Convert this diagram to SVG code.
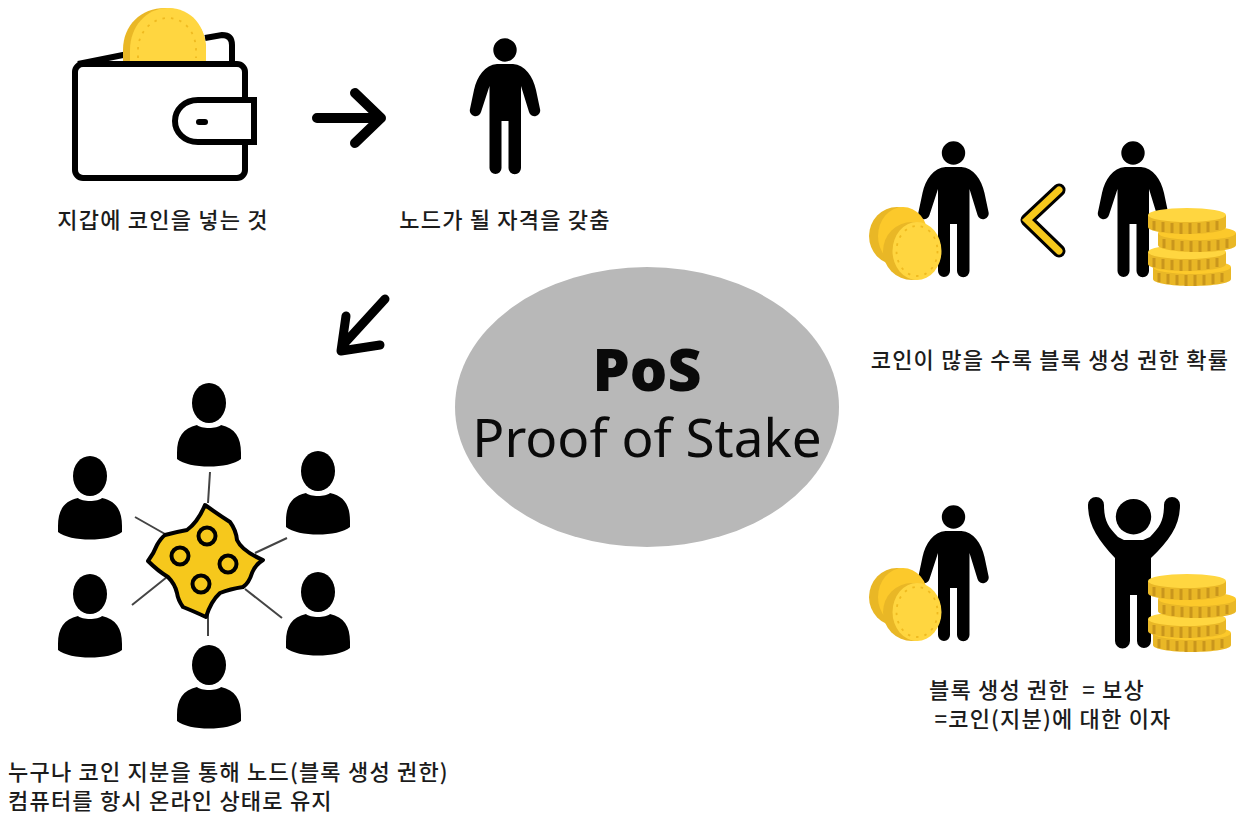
<svg xmlns="http://www.w3.org/2000/svg" xmlns:xlink="http://www.w3.org/1999/xlink" width="1238" height="814" viewBox="0 0 1238 814">
<style>
.t{font-family:"Noto Sans CJK KR","Noto Sans",sans-serif;font-size:22px;font-weight:500;fill:#1c1c1c;letter-spacing:1.2px;white-space:pre}
.big{font-family:"Noto Sans","Noto Sans CJK KR",sans-serif;fill:#0a0a0a}
.ln{stroke:#444;stroke-width:2;fill:none}
.arrow{fill:none;stroke:#000;stroke-linecap:round;stroke-linejoin:round}
.dots{fill:none;stroke:#efba20;stroke-width:1.8;stroke-dasharray:2.500 6}
</style>
<defs>
<path id="person" d="M-8 14H8C20 15 28 26 31 40L35 59A5.500 5.500 0 0 1 24 62L16 36V118A6 6 0 0 1 3.500 118V71H-3.500V118A6 6 0 0 1 -15.500 118V36L-24 62A5.500 5.500 0 0 1 -35 59L-31 40C-28 26 -20 15 -8 14ZM11.700 0A11.700 11.700 0 1 1 -11.700 0A11.700 11.700 0 1 1 11.700 0Z"/>
<g id="bust">
<ellipse cx="0" cy="-20" rx="17" ry="20"/>
<path d="M-12 2C-8 6 8 6 12 2C26 5 32 14 32 30V36C20 46 -20 46 -32 36V30C-32 14 -26 5 -12 2Z"/>
</g>
<g id="coins2">
<ellipse cx="27" cy="29" rx="28" ry="29" fill="#e9b726"/>
<ellipse cx="33" cy="29" rx="25" ry="29" fill="#fcc92b"/>
<ellipse cx="42" cy="44" rx="29" ry="29" fill="#e9b726"/>
<ellipse cx="47" cy="44" rx="24.500" ry="29" fill="#ffd640"/>
<ellipse cx="47" cy="44" rx="20.500" ry="25" class="dots"/>
</g>
<g id="disc">
<path d="M-39 0V12C-39 16 -22 19 0 19C22 19 39 16 39 12V0Z" fill="#e9b726"/>
<path d="M-33 6V15M-24 7V17M-15 8V18M-6 8V19M3 8V19M12 8V18M21 7V17M30 6V15" stroke="#c9961c" stroke-width="3" fill="none"/>
<ellipse cx="0" cy="0" rx="39" ry="7"/>
</g>
</defs>
<rect width="1238" height="814" fill="#fff"/>

<g id="wallet">
<path d="M78 64L128 54M205 38L222 35Q232 35 232 45V64" fill="none" stroke="#000" stroke-width="6"/>
<path d="M123 61V50C123 25 141 8 165 8C189 8 206 26 206 50V61Z" fill="#e9b726"/>
<path d="M130 61V50C130 27 146 8 168 8C191 8 206 26 206 50V61Z" fill="#ffd640"/>
<path d="M138 58V50C138 32 152 18 168 18C184 18 196 32 196 50V58" class="dots"/>
<rect x="75" y="64" width="170" height="114" rx="8" fill="#fff" stroke="#000" stroke-width="6"/>
<path d="M254 100H198C184 100 175 110 175 121C175 132 184 142 198 142H254Z" fill="#fff" stroke="#000" stroke-width="6"/>
<rect x="196" y="119" width="12" height="6" rx="3"/>
</g>
<g id="label-wallet"><text class="t" x="163" y="228" text-anchor="middle">지갑에 코인을 넣는 것</text></g>

<g id="connectors">
<path class="arrow" stroke-width="10" d="M317 118H380M355 93L381 118L355 143"/>
<path class="arrow" stroke-width="9" d="M385 299L343 345M346 316L341 351L380 345"/>
<path class="ln" d="M210 472L208 503M135 517L165 534M287 538L255 553M132 605L167 577M282 618L245 589M208 615V636"/>
</g>

<g id="node-person"><use xlink:href="#person" x="505" y="50"/></g>
<g id="label-node"><text class="t" x="505" y="228" text-anchor="middle">노드가 될 자격을 갖춤</text></g>

<g id="center-ellipse">
<ellipse cx="647" cy="407" rx="192" ry="140" fill="#b8b8b8"/>
<text class="big" x="647" y="391" text-anchor="middle" font-size="59" font-weight="900">PoS</text>
<text class="big" x="647" y="457" text-anchor="middle" font-size="53">Proof of Stake</text>
</g>

<g id="network">
<use xlink:href="#bust" x="209" y="423"/>
<use xlink:href="#bust" x="90" y="496"/>
<use xlink:href="#bust" x="318" y="491"/>
<use xlink:href="#bust" x="90" y="614"/>
<use xlink:href="#bust" x="318" y="612"/>
<use xlink:href="#bust" x="209" y="685"/>
<path d="M205 505Q219 515 230 522Q236 530 237 540Q242 551 263 560Q255 565 252 573Q249 583 243 587Q230 589 220 593Q211 601 206 617Q193 611 183 607Q178 600 177 593Q175 584 168 577Q158 571 148 561Q154 553 157 545Q161 538 165 535Q176 532 187 530Q198 522 205 505Z" fill="#f6c81c" stroke="#000" stroke-width="4" stroke-linejoin="round"/>
<g fill="none" stroke="#000" stroke-width="4">
<circle cx="207" cy="536" r="8.500"/><circle cx="180" cy="556" r="8.500"/><circle cx="228" cy="564" r="8.500"/><circle cx="201" cy="584" r="8.500"/>
</g>
</g>
<g id="label-network">
<text class="t" x="8" y="780">누구나 코인 지분을 통해 노드(블록 생성 권한)</text>
<text class="t" x="8" y="809">컴퓨터를 항시 온라인 상태로 유지</text>
</g>

<g id="compare">
<use xlink:href="#person" x="953.500" y="153"/>
<use xlink:href="#person" x="1133" y="153"/>
<use xlink:href="#coins2" x="870" y="207"/>
<path d="M1059 190L1027 220L1059 251" fill="none" stroke="#000" stroke-width="13" stroke-linecap="round" stroke-linejoin="round"/>
<path d="M1059 190L1027 220L1059 251" fill="none" stroke="#f6c81c" stroke-width="7" stroke-linecap="round"/>
<use xlink:href="#disc" x="1192" y="267" fill="#fcc92b"/>
<use xlink:href="#disc" x="1187" y="252" fill="#ffd640"/>
<use xlink:href="#disc" x="1197" y="233" fill="#fcc92b"/>
<use xlink:href="#disc" x="1187" y="215" fill="#ffd640"/>
</g>
<g id="label-compare"><text class="t" x="1050" y="368" text-anchor="middle">코인이 많을 수록 블록 생성 권한 확률</text></g>

<g id="reward">
<use xlink:href="#person" x="953.500" y="517"/>
<use xlink:href="#coins2" x="870" y="568"/>
<circle cx="1133.500" cy="516.700" r="17.700"/>
<path d="M1088 505A8 8 0 0 1 1104 505C1104 520 1108 527 1118 537L1124 540H1143L1150 537C1160 527 1164 520 1164 505A8 8 0 0 1 1180 505C1180 525 1170 540 1151 558V641A7 7 0 0 1 1137 641V595H1130V641A7.500 7.500 0 0 1 1115 641V558C1098 540 1088 525 1088 505Z"/>
<use xlink:href="#disc" x="1192" y="633" fill="#fcc92b"/>
<use xlink:href="#disc" x="1187" y="619" fill="#ffd640"/>
<use xlink:href="#disc" x="1197" y="599" fill="#fcc92b"/>
<use xlink:href="#disc" x="1187" y="581" fill="#ffd640"/>
</g>
<g id="label-reward">
<text class="t" x="1037" y="698" text-anchor="middle">블록 생성 권한  = 보상</text>
<text class="t" x="1053" y="727" text-anchor="middle">=코인(지분)에 대한 이자</text>
</g>
</svg>
